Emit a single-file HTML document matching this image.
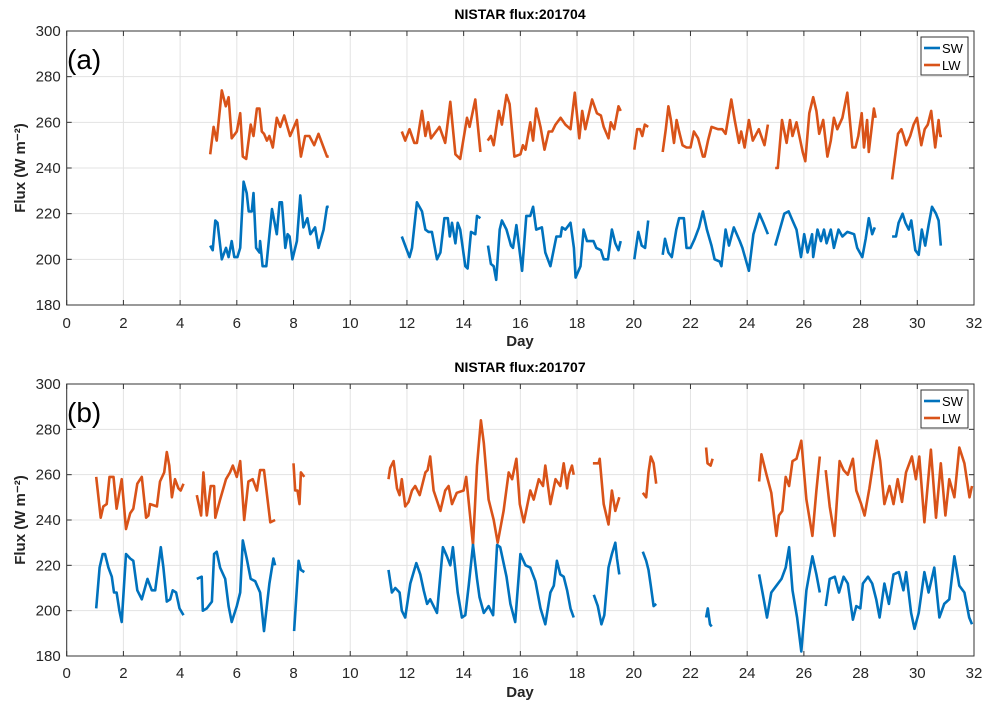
<!DOCTYPE html>
<html><head><meta charset="utf-8"><style>
body{margin:0;background:#fff;}
svg{display:block;font-family:"Liberation Sans",sans-serif;}
</style></head><body>
<svg id="chart" width="993" height="711" viewBox="0 0 993 711"></svg>
<script>
// ---- data (day, flux W m-2) ----
const xTicks=[0,2,4,6,8,10,12,14,16,18,20,22,24,26,28,30,32];
const yTicks=[180,200,220,240,260,280,300];
const panelTitles=["NISTAR flux:201704","NISTAR flux:201707"];
const panelLabels=["(a)","(b)"];
const seriesNames=["SW","LW"];

const a_lw_days=[
[5.06,5.18,5.29,5.47,5.61,5.71,5.82,6.0,6.12,6.21,6.33,6.49,6.59,6.71,6.8,6.88,6.96,7.06,7.15,7.27,7.41,7.53,7.67,7.88,8.12,8.26,8.41,8.56,8.73,8.88,9.06,9.18,9.24],
[11.82,11.94,12.09,12.26,12.35,12.53,12.65,12.75,12.85,13.15,13.35,13.53,13.71,13.88,14.12,14.21,14.41,14.59],
[14.85,14.96,15.06,15.24,15.35,15.51,15.62,15.79,16.0,16.09,16.18,16.35,16.45,16.56,16.71,16.85,17.0,17.12,17.24,17.42,17.59,17.77,17.92,18.08,18.18,18.29,18.53,18.7,18.84,18.94,19.11,19.19,19.31,19.46,19.54],
[20.02,20.12,20.22,20.3,20.39,20.51],
[21.02,21.13,21.22,21.31,21.42,21.51,21.6,21.72,21.86,22.0,22.12,22.27,22.44,22.5,22.62,22.74,22.97,23.12,23.24,23.44,23.56,23.71,23.79,23.91,24.06,24.2,24.41,24.61,24.73],
[24.99,25.08,25.23,25.39,25.51,25.6,25.74,25.96,26.05,26.19,26.33,26.44,26.54,26.68,26.83,26.95,27.06,27.18,27.36,27.53,27.71,27.82,27.92,28.04,28.12,28.23,28.29,28.47,28.53],
[29.11,29.32,29.44,29.52,29.61,29.75,29.87,29.99,30.14,30.26,30.37,30.49,30.63,30.75,30.81,30.87]];
const a_lw_vals=[
[246,258,252,274,267,271,253,256,264,245,244,259,254,266,266,256,255,252,254,249,262,258,263,254,261,245,254,254,250,255,249,245,245],
[256,252,257,251,251,265,254,260,253,258,251,269,246,244,262,258,270,247],
[252,254,250,265,259,272,268,245,246,250,248,260,252,266,258,248,256,256,259,262,259,257,273,253,265,257,270,264,263,258,253,260,257,267,265],
[248,257,257,254,259,258],
[247,257,267,261,251,261,256,250,249,249,256,253,245,245,252,258,257,257,255,270,261,251,256,249,261,252,257,250,259],
[240,240,261,251,261,254,260,247,243,264,271,265,255,261,245,252,262,257,262,273,249,249,254,264,249,261,247,266,262],
[235,255,257,254,250,254,259,262,250,257,259,265,249,261,254,254]];
const a_sw_days=[
[5.06,5.15,5.24,5.32,5.47,5.62,5.71,5.82,5.91,6.02,6.12,6.24,6.35,6.42,6.53,6.59,6.68,6.8,6.82,6.91,7.04,7.24,7.41,7.51,7.59,7.71,7.79,7.86,7.96,8.12,8.24,8.35,8.49,8.59,8.76,8.88,9.06,9.18,9.24],
[11.82,12.09,12.18,12.35,12.53,12.65,12.76,12.88,13.06,13.18,13.32,13.44,13.51,13.59,13.71,13.79,13.88,14.06,14.14,14.26,14.41,14.47,14.59],
[14.86,14.96,15.06,15.15,15.27,15.35,15.51,15.67,15.74,15.86,16.06,16.21,16.35,16.45,16.56,16.76,16.88,17.06,17.27,17.42,17.47,17.59,17.77,17.89,17.95,18.12,18.23,18.35,18.58,18.68,18.84,18.94,19.09,19.23,19.35,19.46,19.54],
[20.02,20.16,20.28,20.4,20.51],
[21.02,21.1,21.22,21.34,21.5,21.6,21.77,21.86,22.0,22.15,22.3,22.44,22.58,22.74,22.85,23.03,23.09,23.24,23.36,23.53,23.74,23.83,24.06,24.22,24.43,24.57,24.73],
[24.99,25.15,25.31,25.46,25.6,25.74,25.9,26.01,26.13,26.29,26.33,26.48,26.6,26.71,26.8,26.95,27.06,27.22,27.36,27.53,27.77,27.88,28.06,28.18,28.29,28.41,28.5],
[29.11,29.25,29.34,29.48,29.58,29.7,29.79,29.93,30.05,30.16,30.28,30.4,30.52,30.66,30.75,30.83]];
const a_sw_vals=[
[206,204,217,216,200,205,201,208,201,201,205,234,229,221,221,229,205,203,208,197,197,222,211,225,225,205,211,210,200,208,228,214,218,211,214,205,213,223,223],
[210,201,205,225,221,213,212,212,200,203,218,218,210,216,207,216,213,197,196,212,211,219,218],
[206,198,197,191,213,217,213,206,205,215,195,219,219,223,213,214,203,197,210,210,214,213,216,205,192,197,213,208,208,205,204,200,200,213,207,204,208],
[200,212,206,205,217],
[202,209,203,201,213,218,218,205,205,209,214,221,213,206,200,199,197,213,206,214,208,205,195,211,220,216,211],
[206,213,220,221,217,213,201,211,203,211,201,213,208,213,207,213,205,213,210,212,211,205,201,209,218,211,214],
[210,210,216,220,216,213,217,204,202,213,206,215,223,220,217,206]];

const b_lw_days=[
[1.04,1.2,1.29,1.41,1.51,1.65,1.76,1.94,2.09,2.24,2.35,2.49,2.65,2.8,2.88,2.94,3.18,3.29,3.44,3.53,3.62,3.71,3.82,3.94,4.02,4.12],
[4.59,4.74,4.82,4.94,5.08,5.2,5.24,5.41,5.62,5.76,5.86,6.0,6.12,6.26,6.41,6.56,6.71,6.82,6.96,7.18,7.35],
[8.0,8.06,8.14,8.21,8.26,8.38],
[11.35,11.41,11.53,11.65,11.74,11.82,11.94,12.06,12.18,12.29,12.45,12.65,12.73,12.82,12.94,13.18,13.35,13.47,13.59,13.76,14.0,14.09,14.33,14.47,14.61,14.71,14.88,15.06,15.2,15.41,15.59,15.71,15.86,15.98,16.12,16.35,16.47,16.65,16.8,16.88,17.06,17.24,17.41,17.53,17.65,17.71,17.82,17.88],
[18.56,18.76,18.8,18.94,19.11,19.23,19.35,19.49],
[20.32,20.44,20.52,20.6,20.7,20.79],
[22.55,22.6,22.71,22.78],
[24.42,24.5,24.56,24.68,24.85,25.03,25.12,25.24,25.36,25.48,25.6,25.74,25.91,26.09,26.3,26.44,26.56],
[26.77,26.91,27.08,27.26,27.4,27.55,27.73,27.85,28.02,28.14,28.31,28.43,28.57,28.69,28.84,29.02,29.16,29.31,29.46,29.6,29.81,29.95,30.07,30.25,30.48,30.66,30.83,30.99,31.13,31.31,31.48,31.66,31.84,31.93]];
const b_lw_vals=[
[259,241,246,247,259,259,245,258,236,243,245,256,259,241,242,247,246,257,261,270,264,250,258,254,253,256],
[251,242,261,242,255,255,241,249,258,261,264,259,266,240,257,258,253,262,262,239,240],
[265,253,253,247,261,259],
[258,263,266,254,251,258,246,248,253,255,251,261,262,268,253,244,253,255,247,252,253,259,229,264,284,274,249,240,230,244,261,258,267,247,239,253,249,258,255,264,247,258,255,265,254,260,264,260],
[265,265,267,247,238,253,244,250],
[252,250,261,268,265,256],
[272,265,264,267],
[257,269,266,260,252,233,242,244,259,255,266,267,275,249,233,253,268],
[262,246,233,266,262,260,267,253,247,242,254,264,275,266,247,255,247,258,248,261,268,258,268,239,271,241,265,242,258,250,272,265,250,255]];
const b_sw_days=[
[1.04,1.16,1.27,1.35,1.47,1.59,1.67,1.76,1.86,1.94,2.09,2.24,2.35,2.49,2.65,2.85,3.0,3.12,3.32,3.41,3.53,3.65,3.74,3.86,3.98,4.12],
[4.59,4.76,4.8,4.94,5.12,5.2,5.29,5.41,5.59,5.71,5.82,6.0,6.12,6.21,6.35,6.49,6.65,6.82,6.96,7.15,7.29,7.35],
[8.02,8.18,8.26,8.38],
[11.35,11.47,11.59,11.74,11.82,11.94,12.12,12.33,12.47,12.59,12.71,12.82,13.06,13.27,13.41,13.53,13.62,13.79,13.94,14.06,14.18,14.33,14.47,14.56,14.71,14.88,15.04,15.18,15.29,15.51,15.65,15.82,16.0,16.18,16.35,16.53,16.71,16.88,17.06,17.18,17.29,17.41,17.53,17.65,17.77,17.88],
[18.59,18.73,18.86,18.96,19.11,19.23,19.35,19.41,19.49],
[20.32,20.44,20.52,20.6,20.7,20.79],
[22.55,22.61,22.69,22.75],
[24.42,24.54,24.7,24.85,25.03,25.21,25.36,25.48,25.6,25.76,25.91,26.09,26.3,26.44,26.56],
[26.77,26.91,27.09,27.24,27.4,27.55,27.73,27.85,27.99,28.08,28.26,28.41,28.55,28.67,28.84,29.0,29.16,29.35,29.51,29.61,29.78,29.9,30.05,30.25,30.4,30.6,30.78,30.95,31.13,31.31,31.48,31.66,31.83,31.93]];
const b_sw_vals=[
[201,219,225,225,219,215,208,208,200,195,225,223,222,209,205,214,209,209,228,219,204,205,209,208,201,198],
[214,215,200,201,204,225,226,219,214,202,195,202,208,231,223,214,213,208,191,212,223,220],
[191,222,218,217],
[218,208,210,208,200,197,212,221,216,209,203,205,199,228,224,220,228,208,197,198,211,229,214,206,199,202,198,229,228,215,203,195,225,220,219,213,201,194,208,211,222,216,215,209,201,197],
[207,202,194,198,219,225,230,223,216],
[226,222,218,211,202,203],
[197,201,194,193],
[216,208,197,208,211,214,219,228,209,197,182,209,224,216,208],
[202,214,215,208,215,212,196,202,201,212,215,212,205,197,212,203,216,217,209,217,199,192,199,217,208,219,197,203,205,224,211,208,197,194]];

const panels=[
 {top:31,bottom:305,title:panelTitles[0],label:panelLabels[0],sw:[a_sw_days,a_sw_vals],lw:[a_lw_days,a_lw_vals],titleY:19,tickY:328,dayY:346,key:"a"},
 {top:384,bottom:656,title:panelTitles[1],label:panelLabels[1],sw:[b_sw_days,b_sw_vals],lw:[b_lw_days,b_lw_vals],titleY:372,tickY:678,dayY:697,key:"b"}];
const LEFT=66.7,RIGHT=974;
const COLORS={SW:"#0072BD",LW:"#D95319"};
const NS="http://www.w3.org/2000/svg";
const svg=document.getElementById('chart');
function el(tag,attrs,parent){const e=document.createElementNS(NS,tag);for(const k in attrs)e.setAttribute(k,attrs[k]);(parent||svg).appendChild(e);return e;}

panels.forEach(p=>{
  const xs=d=>LEFT+(d-0)/(32-0)*(RIGHT-LEFT);
  const ys=v=>p.bottom-(v-180)/(300-180)*(p.bottom-p.top);
  const g=el('g',{});
  
  
  el('rect',{x:LEFT,y:p.top,width:RIGHT-LEFT,height:p.bottom-p.top,fill:'#fff'},g);
  xTicks.forEach(t=>{
    const x=xs(t);
    const ln=el('line',{x1:x,x2:x,y1:p.top,y2:p.bottom,stroke:'#e3e3e3','stroke-width':1},g);
    
    
    el('line',{x1:x,x2:x,y1:p.bottom,y2:p.bottom-5,stroke:'#333'},g);
    el('line',{x1:x,x2:x,y1:p.top,y2:p.top+5,stroke:'#333'},g);
    const tx=el('text',{x:x,y:p.tickY,'font-size':15,'text-anchor':'middle',fill:'#262626'},g);
    tx.textContent=t;
    
    
  });
  yTicks.forEach(t=>{
    const y=ys(t);
    const ln=el('line',{x1:LEFT,x2:RIGHT,y1:y,y2:y,stroke:'#e3e3e3','stroke-width':1},g);
    
    
    el('line',{x1:LEFT,x2:LEFT+5,y1:y,y2:y,stroke:'#333'},g);
    el('line',{x1:RIGHT,x2:RIGHT-5,y1:y,y2:y,stroke:'#333'},g);
    const tx=el('text',{x:LEFT-6,y:y+5,'font-size':15,'text-anchor':'end',fill:'#262626'},g);
    tx.textContent=t;
    
    
  });
  [['LW',p.lw],['SW',p.sw]].forEach(([name,ser])=>{
    ser[0].forEach((days,i)=>{
      const vals=ser[1][i];
      const pts=days.map((d,j)=>xs(d).toFixed(1)+','+ys(vals[j]).toFixed(1)).join(' ');
      const pl=el('polyline',{points:pts,fill:'none',stroke:COLORS[name],'stroke-width':2.6,'stroke-linejoin':'round'},g);
      
      
    });
  });
  const fr=el('rect',{x:LEFT,y:p.top,width:RIGHT-LEFT,height:p.bottom-p.top,fill:'none',stroke:'#333','stroke-width':1},g);
  
  
  const tt=el('text',{x:520,y:p.titleY,'font-size':14,'font-weight':'bold','text-anchor':'middle',fill:'#000'},g);
  tt.textContent=p.title;
  
  
  const lb=el('text',{x:67,y:p.top+38,'font-size':28,fill:'#000'},g);
  lb.textContent=p.label;
  
  
  const dx=el('text',{x:520,y:p.dayY,'font-size':15,'font-weight':'bold','text-anchor':'middle',fill:'#262626'},g);
  dx.textContent='Day';
  
  
  const cy=(p.top+p.bottom)/2;
  const yt=el('text',{x:25,y:cy,'font-size':15,'font-weight':'bold','text-anchor':'middle',fill:'#262626',transform:'rotate(-90 25 '+cy+')'},g);
  yt.textContent='Flux (W m\u207B\u00B2)';
  
  
  // legend
  const lg=el('g',{},g);
  
  
  const ly=p.top+6;
  el('rect',{x:921,y:ly,width:47,height:38,fill:'#fff',stroke:'#333','stroke-width':1},lg);
  seriesNames.forEach((n,i)=>{
    const yy=ly+11+i*17;
    const ln=el('line',{x1:924,x2:940,y1:yy,y2:yy,stroke:COLORS[n],'stroke-width':2.6},lg);
    
    
    const t=el('text',{x:942,y:yy+5,'font-size':13,fill:'#000'},lg);
    t.textContent=n;
    
    
  });
});
</script>
</body></html>
